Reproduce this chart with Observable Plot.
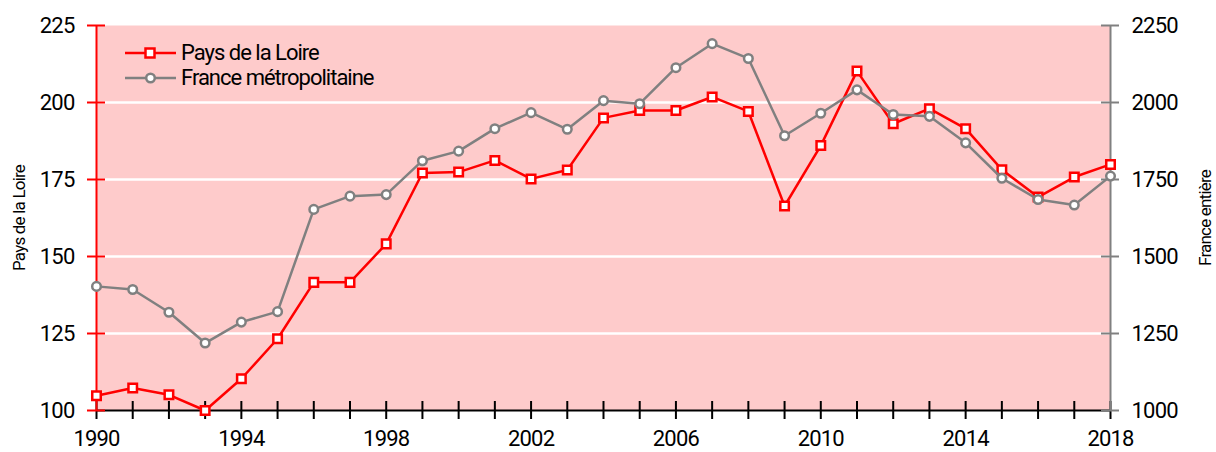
<!DOCTYPE html>
<html><head><meta charset="utf-8">
<script src="https://cdn.jsdelivr.net/npm/d3@7"></script>
<script src="https://cdn.jsdelivr.net/npm/@observablehq/plot@0.6"></script>
<style>
body{margin:0;background:#fff;}
#wrap{position:relative;width:1216px;height:452px;font-family:Roboto,sans-serif;}
#legend{position:absolute;left:124px;top:40px;font-size:22px;letter-spacing:-1px;color:#000;}
.row{display:flex;align-items:center;height:25px;}
.row svg{margin-right:3px;}
</style></head><body><div id="wrap"></div>
<script>
const years = d3.range(1990, 2019);
const paysDeLaLoire = [104.8,107.3,105.1,100.0,110.3,123.3,141.6,141.6,154.1,177.1,177.4,181.2,175.2,178.1,195.0,197.4,197.4,201.8,197.1,166.4,186.0,210.2,193.1,198.0,191.5,178.2,169.3,175.8,179.9];
const franceMetro = [1403,1393,1319,1219,1287,1321,1653,1696,1701,1811,1842,1915,1967,1913,2006,1996,2113,2191,2143,1892,1965,2041,1961,1955,1869,1754,1685,1667,1761];
const leftTicks = [100,125,150,175,200,225];
const rightTicks = [1000,1250,1500,1750,2000,2250];
const gridLines = [125,150,175,200];
const xLabelYears = [1990,1994,1998,2002,2006,2010,2014,2018];
const seriesNames = ["Pays de la Loire","France métropolitaine"];
const leftTitle = "Pays de la Loire";
const rightTitle = "France entière";
const RED = "#ff0000", GRAY = "#808080", PINK = "#fecbcb";

const data = years.map((year,i)=>({year, pays: paysDeLaLoire[i], france: franceMetro[i]/10}));
const ff = 'Roboto,sans-serif';

const chart = Plot.plot({
  width: 1216, height: 452,
  marginLeft: 96, marginRight: 106, marginTop: 25, marginBottom: 42,
  style: {fontFamily: ff, fontSize: "22px", background: "white", color: "black", overflow: "visible", letterSpacing: "-0.8px"},
  x: {domain: [1990, 2018], axis: null},
  y: {domain: [100, 225], axis: null},
  marks: [
    Plot.frame({fill: PINK, stroke: "none"}),
    Plot.ruleY(gridLines, {stroke: "white", strokeWidth: 2.5}),
    Plot.ruleY([100], {stroke: "black", strokeWidth: 2}),
    Plot.ruleX(years, {x: d=>d, y1: 100, y2: 100, insetTop: -9, insetBottom: -9, stroke: "black", strokeWidth: 2}),
    Plot.axisX(xLabelYears, {anchor: "bottom", tickSize: 0, tickPadding: 20, tickFormat: d=>String(d), fontSize: 22, label: null}),
    Plot.ruleX([1990], {stroke: RED, strokeWidth: 2}),
    Plot.ruleY(leftTicks, {y: d=>d, x1: 1990, x2: 1990, insetLeft: -9, insetRight: -9, stroke: RED, strokeWidth: 2}),
    Plot.axisY(leftTicks, {anchor: "left", tickSize: 0, tickPadding: 22, fontSize: 22, label: null}),
    Plot.ruleX([2018], {stroke: GRAY, strokeWidth: 2}),
    Plot.ruleY(leftTicks, {y: d=>d, x1: 2018, x2: 2018, insetLeft: -9, insetRight: -9, stroke: GRAY, strokeWidth: 2}),
    Plot.axisY(leftTicks, {anchor: "right", tickSize: 0, tickPadding: 21, fontSize: 22, label: null, tickFormat: (d,i)=>String(rightTicks[i])}),
    Plot.text([leftTitle], {frameAnchor: "left", textAnchor: "middle", text: d=>d, rotate: -90, dx: -77, fontSize: 17, ariaLabel: "axis-title"}),
    Plot.text([rightTitle], {frameAnchor: "right", textAnchor: "middle", text: d=>d, rotate: -90, dx: 95, fontSize: 17, ariaLabel: "axis-title"}),
    Plot.line(data, {x: "year", y: "pays", stroke: RED, strokeWidth: 2.5}),
    Plot.dot(data, {x: "year", y: "pays", symbol: "square", r: 4.8, fill: "white", stroke: RED, strokeWidth: 2.5}),
    Plot.line(data, {x: "year", y: "france", stroke: GRAY, strokeWidth: 2.5}),
    Plot.dot(data, {x: "year", y: "france", r: 4.3, fill: "white", stroke: GRAY, strokeWidth: 2.5})
  ]
});
chart.querySelectorAll('g[aria-label="axis-title"]').forEach(g => g.style.letterSpacing = "0px");
const wrap = document.getElementById("wrap");
wrap.appendChild(chart);

const legend = document.createElement("div");
legend.id = "legend";
const swatch = (color, square) => `<svg width="54" height="20" viewBox="0 0 54 20"><line x1="1" x2="52" y1="10" y2="10" stroke="${color}" stroke-width="2.5"/>` +
  (square ? `<rect x="21.5" y="5.5" width="9" height="9" fill="white" stroke="${color}" stroke-width="2.5"/>` : `<circle cx="26.5" cy="10" r="4.3" fill="white" stroke="${color}" stroke-width="2.5"/>`) + `</svg>`;
legend.innerHTML = `<div class="row">${swatch(RED,true)}<span>${seriesNames[0]}</span></div><div class="row">${swatch(GRAY,false)}<span>${seriesNames[1]}</span></div>`;
wrap.appendChild(legend);
</script></body></html>
